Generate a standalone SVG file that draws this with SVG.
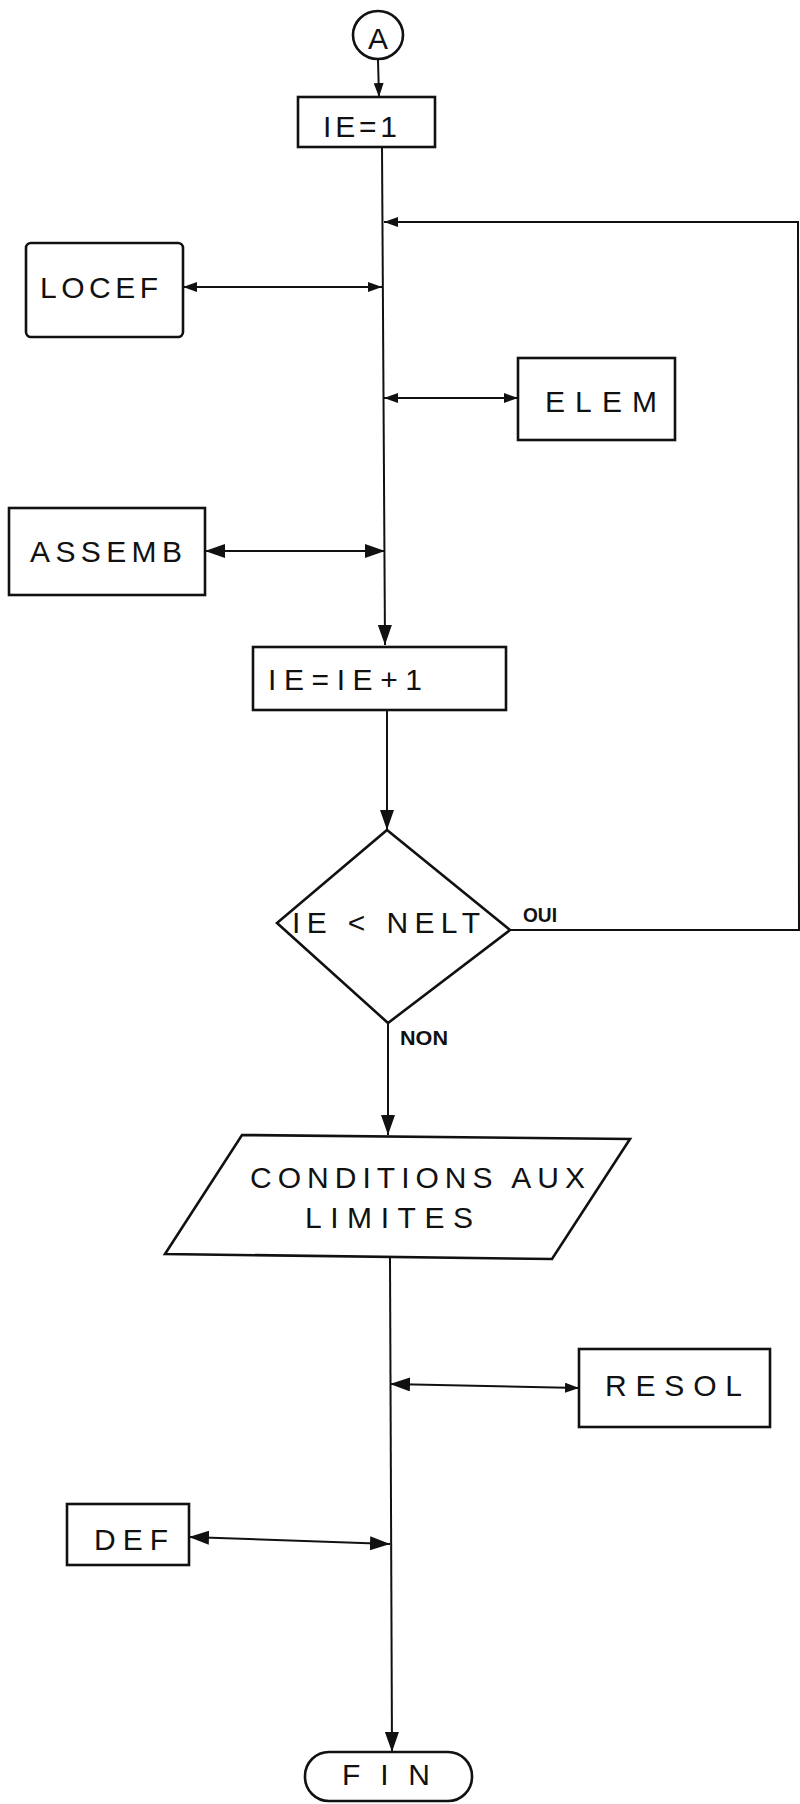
<svg xmlns="http://www.w3.org/2000/svg" width="800" height="1804" viewBox="0 0 800 1804">
<style>
.box{fill:none;stroke:#111;stroke-width:2.6}
.ln{fill:none;stroke:#111;stroke-width:2}
.t{font-family:"Liberation Sans","DejaVu Sans",Arial,sans-serif;fill:#111;font-size:30px}
.s{font-family:"Liberation Sans","DejaVu Sans",Arial,sans-serif;fill:#111;font-size:21px;font-weight:bold}
</style>
<defs>
<marker id="a" viewBox="0 0 20 14" refX="20" refY="7" markerWidth="20" markerHeight="14" markerUnits="userSpaceOnUse" orient="auto-start-reverse">
<path d="M0,0 L20,7 L0,14 Z" fill="#111"/>
</marker>
<marker id="b" viewBox="0 0 14 10" refX="14" refY="5" markerWidth="14" markerHeight="10" markerUnits="userSpaceOnUse" orient="auto-start-reverse">
<path d="M0,0 L14,5 L0,10 Z" fill="#111"/>
</marker>
</defs>
<rect width="800" height="1804" fill="#fff"/>

<g id="connectors">
<line class="ln" x1="378" y1="60" x2="379" y2="97" marker-end="url(#b)"/>
<line class="ln" x1="382" y1="147" x2="385" y2="645" marker-end="url(#a)"/>
<line class="ln" x1="387" y1="710" x2="387" y2="830" marker-end="url(#a)"/>
<line class="ln" x1="388" y1="1023" x2="388" y2="1135" marker-end="url(#a)"/>
<line class="ln" x1="390" y1="1258" x2="392" y2="1752" marker-end="url(#a)"/>
<polyline class="ln" points="510,930 799,930 798,222 384,222" marker-end="url(#b)"/>
<line class="ln" x1="183" y1="287" x2="382" y2="287" marker-start="url(#b)" marker-end="url(#b)"/>
<line class="ln" x1="384" y1="398" x2="518" y2="398" marker-start="url(#b)" marker-end="url(#b)"/>
<line class="ln" x1="205" y1="551" x2="385" y2="551" marker-start="url(#a)" marker-end="url(#a)"/>
<line class="ln" x1="390" y1="1384" x2="579" y2="1388" marker-start="url(#a)" marker-end="url(#b)"/>
<line class="ln" x1="189" y1="1537" x2="390" y2="1544" marker-start="url(#a)" marker-end="url(#a)"/>
<text class="s" x="523" y="922" textLength="34" lengthAdjust="spacingAndGlyphs">OUI</text>
<text class="s" x="400" y="1045" textLength="48" lengthAdjust="spacingAndGlyphs">NON</text>
</g>

<g id="start">
<ellipse class="box" cx="378" cy="35" rx="25" ry="24"/>
<text class="t" x="378" y="49" text-anchor="middle" font-size="38">A</text>
</g>

<g id="init">
<rect class="box" x="298" y="97" width="137" height="50"/>
<text class="t" x="323" y="137" textLength="74" lengthAdjust="spacing">IE=1</text>
</g>

<g id="locef">
<rect class="box" x="26" y="243" width="157" height="94" rx="5"/>
<text class="t" x="40" y="298" font-size="34" textLength="118" lengthAdjust="spacing">LOCEF</text>
</g>

<g id="elem">
<rect class="box" x="518" y="358" width="157" height="82"/>
<text class="t" x="545" y="412" font-size="32" textLength="112" lengthAdjust="spacing">ELEM</text>
</g>

<g id="assemb">
<rect class="box" x="9" y="508" width="196" height="87"/>
<text class="t" x="30" y="562" textLength="152" lengthAdjust="spacing">ASSEMB</text>
</g>

<g id="incr">
<rect class="box" x="253" y="647" width="253" height="63"/>
<text class="t" x="268" y="690" textLength="154" lengthAdjust="spacing">IE=IE+1</text>
</g>

<g id="test">
<polygon class="box" points="387,830 510,930 388,1023 277,923"/>
<text class="t" x="292" y="933" font-size="34" textLength="188" lengthAdjust="spacing">IE &lt; NELT</text>
</g>

<g id="conditions">
<polygon class="box" points="242,1135 630,1139 552,1259 165,1254"/>
<text class="t" x="250" y="1188" font-size="27" textLength="335" lengthAdjust="spacing">CONDITIONS AUX</text>
<text class="t" x="305" y="1228" font-size="27" textLength="168" lengthAdjust="spacing">LIMITES</text>
</g>

<g id="resol">
<rect class="box" x="579" y="1349" width="191" height="78"/>
<text class="t" x="605" y="1396" textLength="137" lengthAdjust="spacing">RESOL</text>
</g>

<g id="def">
<rect class="box" x="67" y="1504" width="122" height="61"/>
<text class="t" x="94" y="1550" textLength="74" lengthAdjust="spacing">DEF</text>
</g>

<g id="fin">
<rect class="box" x="305" y="1752" width="167" height="49" rx="24"/>
<text class="t" x="342" y="1785" textLength="88" lengthAdjust="spacing">FIN</text>
</g>
</svg>
